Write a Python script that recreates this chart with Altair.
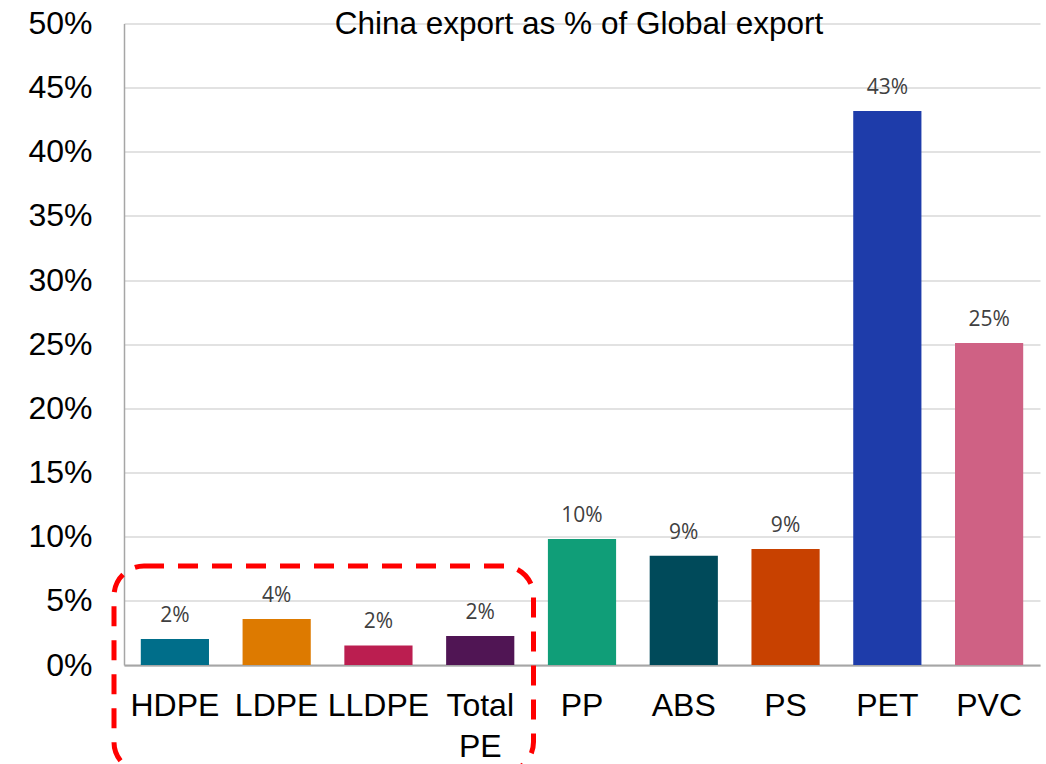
import altair as alt
import pandas as pd

# ---- data ----
categories = ["HDPE", "LDPE", "LLDPE", "Total PE", "PP", "ABS", "PS", "PET", "PVC"]
shares = [0.0203, 0.0359, 0.0152, 0.0226, 0.0982, 0.0852, 0.0904, 0.4318, 0.2510]
bar_colors = ["#006E8A", "#DD7A00", "#BB1E50", "#501554", "#109E78",
              "#004A5A", "#C84100", "#1E3CAA", "#CF6184"]
y_ticks = [0.0, 0.05, 0.10, 0.15, 0.20, 0.25, 0.30, 0.35, 0.40, 0.45, 0.50]
title_text = ["China export as % of Global export"]
box_label = ["PE grades"]

df = pd.DataFrame({"category": categories, "share": shares})

x_enc = alt.X(
    "category:N",
    sort=categories,
    scale=alt.Scale(paddingInner=0.33, paddingOuter=0.165),
    axis=alt.Axis(
        title=None,
        labelAngle=0,
        labelFont="Liberation Sans",
        labelFontSize=32,
        labelColor="black",
        labelPadding=25,
        labelBaseline="top",
        labelLineHeight=41,
        labelExpr="datum.label == 'Total PE' ? ['Total', 'PE'] : datum.label",
        ticks=False,
        tickSize=0,
        domainColor="#A6A6A6",
        domainWidth=2,
        grid=False,
    ),
)

y_enc = alt.Y(
    "share:Q",
    scale=alt.Scale(domain=[0, 0.5], nice=False),
    axis=alt.Axis(
        title=None,
        values=y_ticks,
        format=".0%",
        labelFont="Liberation Sans",
        labelFontSize=32,
        labelColor="black",
        labelPadding=32,
        labelOverlap=False,
        ticks=False,
        tickSize=0,
        domainColor="#A6A6A6",
        domainWidth=1.5,
        gridColor="#D9D9D9",
        gridWidth=1.5,
    ),
)

bars = alt.Chart(df).mark_bar().encode(
    x=x_enc,
    y=y_enc,
    color=alt.Color("category:N", scale=alt.Scale(domain=categories, range=bar_colors), legend=None),
)

labels = alt.Chart(df).mark_text(
    dy=-17, baseline="alphabetic", font="Open Sans", fontSize=21, color="#404040"
).encode(
    x=alt.X("category:N", sort=categories),
    y=alt.Y("share:Q"),
    text=alt.Text("share:Q", format=".0%"),
)

box = alt.Chart(pd.DataFrame({"note": box_label})).mark_rect(
    fillOpacity=0, fill="white", stroke="#FF0000", strokeWidth=5,
    strokeDash=[20, 14], cornerRadius=30,
).encode(
    x=alt.value(-10), x2=alt.value(409.5),
    y=alt.value(542.5), y2=alt.value(748.5),
)

title = alt.Chart(pd.DataFrame({"t": title_text})).mark_text(
    font="Liberation Sans", fontSize=31.5, color="black",
    align="center", baseline="alphabetic",
).encode(
    x=alt.value(455), y=alt.value(10), text="t:N",
)

chart = alt.layer(bars, labels, box, title).properties(
    width=916,
    height=641.5,
    autosize="none",
    padding={"left": 124, "top": 23.5, "right": 6, "bottom": 99},
).configure_view(stroke=None)

chart.save("out.html", embed_options={"renderer": "svg", "actions": False})
